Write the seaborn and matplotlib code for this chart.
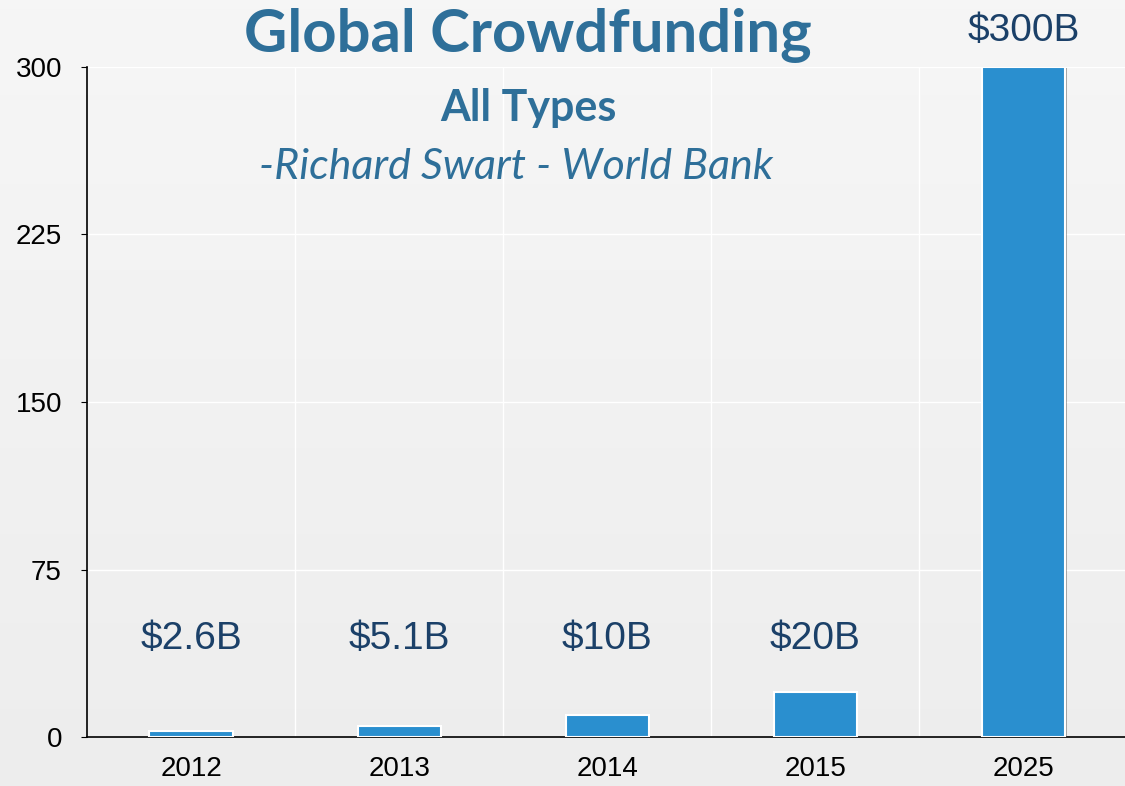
import matplotlib
matplotlib.use('Agg')
import matplotlib.pyplot as plt
import matplotlib.patheffects as pe
import numpy as np
import pandas as pd
import seaborn as sns

# Chart data
years = ['2012', '2013', '2014', '2015', '2025']
volume = [2.6, 5.1, 10, 20, 300]
value_labels = ['$2.6B', '$5.1B', '$10B', '$20B', '$300B']
label_y = [44, 44, 44, 44, 316]
y_ticks = [0, 75, 150, 225, 300]

df = pd.DataFrame({'year': years, 'volume': volume})

sns.set_style('whitegrid')
plt.rcParams['font.family'] = ['Liberation Sans', 'DejaVu Sans']

fig = plt.figure(figsize=(11.25, 7.86), dpi=100)
fig.patch.set_facecolor('#f2f2f2')

# soft vertical gradient behind everything
bg = fig.add_axes([0, 0, 1, 1], zorder=-10)
grad = np.linspace(0.965, 0.93, 256).reshape(-1, 1)
bg.imshow(np.dstack([grad, grad, grad]), aspect='auto', extent=[0, 1, 0, 1])
bg.axis('off')

ax = fig.add_axes([0.0773, 0.0623, 0.925, 0.8525])
ax.set_facecolor('none')

sns.barplot(data=df, x='year', y='volume', color='#2a8fcf', saturation=1, width=0.4,
            edgecolor='white', linewidth=1.5, ax=ax, zorder=3)
for bar in ax.patches:
    bar.set_path_effects([pe.SimplePatchShadow(offset=(1, -1), shadow_rgbFace='#444444', alpha=0.45),
                          pe.Normal()])

for i, (txt, y) in enumerate(zip(value_labels, label_y)):
    ax.text(i, y, txt, ha='center', va='center', fontsize=28, color='#1b4068',
            clip_on=False, zorder=5)

ax.set_xlim(-0.5, 4.5)
ax.set_ylim(0, 300)
ax.set_yticks(y_ticks)
ax.set_xlabel('')
ax.set_ylabel('')

ax.grid(False)
ax.set_xticks(np.arange(0.5, 4.5, 1), minor=True)
ax.xaxis.grid(True, which='minor', color='white', linewidth=1)
ax.yaxis.grid(True, which='major', color='white', linewidth=1)
ax.set_axisbelow(True)

ax.tick_params(axis='x', which='major', length=0, labelsize=20, pad=14, colors='black')
ax.tick_params(axis='x', which='minor', length=4, color='black', direction='out')
ax.tick_params(axis='y', length=4, labelsize=20, colors='black', left=True, pad=14)

for side in ['top', 'right']:
    ax.spines[side].set_visible(False)
for side in ['left', 'bottom']:
    ax.spines[side].set_visible(True)
    ax.spines[side].set_color('black')
    ax.spines[side].set_linewidth(1.2)

title_color = '#2e6f99'
fig.text(0.469, 0.955, 'Global Crowdfunding', ha='center', va='center',
         fontsize=43, fontweight='bold', color=title_color, family=['Lato', 'DejaVu Sans'])
fig.text(0.470, 0.862, 'All Types', ha='center', va='center',
         fontsize=31, fontweight='bold', color=title_color, family=['Lato', 'DejaVu Sans'])
fig.text(0.459, 0.787, '-Richard Swart - World Bank', ha='center', va='center',
         fontsize=31, style='italic', color=title_color, family=['Lato', 'DejaVu Sans'])

fig.savefig('out.png', dpi=100, facecolor=fig.get_facecolor())
